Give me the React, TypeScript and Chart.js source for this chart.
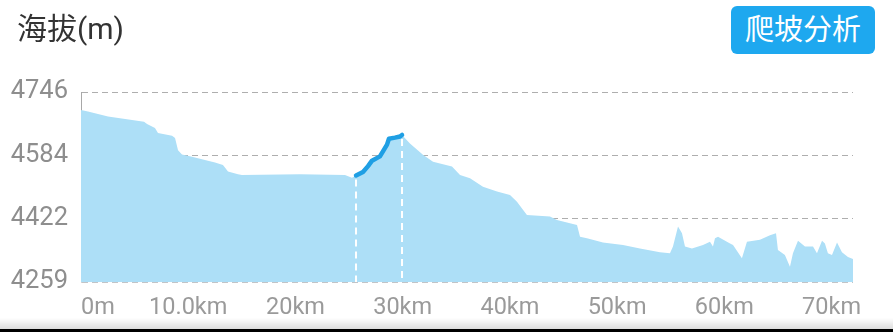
import React, { useEffect, useRef } from "react";
import { Chart, registerables } from "chart.js";

Chart.register(...registerables);

// Distance along the route (km)
const distanceKm = [
  0, 0.65, 2.52, 4.76, 5.88, 6.16, 6.9, 7.18, 8.49, 8.77, 9.05, 9.42, 10.35, 11.56, 12.5, 13.24,
  13.71, 14.64, 15.01, 20.42, 24.62, 25.27, 25.65, 26.3, 26.77, 27.14, 27.88, 28.54, 28.72, 29.28,
  29.75, 29.94, 30.68, 31.89, 32.83, 34.6, 35.35, 36.28, 37.49, 38.8, 40.01, 40.66, 41.22, 41.59,
  43.74, 44.39, 46.26, 46.54, 47.19, 48.68, 50.55, 52.13, 54.0, 54.93, 55.21, 55.68, 56.05, 56.33,
  56.98, 58.01, 58.66, 58.94, 59.13, 59.41, 60.53, 60.81, 61.64, 62.11, 63.32, 64.26, 64.82, 65.0,
  65.65, 66.12, 66.4, 66.87, 67.52, 68.27, 68.64, 69.11, 69.38, 69.66, 70.04, 70.51, 70.97, 71.53,
  72.0,
];

// Elevation (m)
const elevationM = [
  4700, 4696, 4683, 4674, 4670, 4664, 4654, 4641, 4634, 4628, 4597, 4586, 4580, 4572, 4565, 4559,
  4542, 4535, 4533, 4535, 4533, 4526, 4532, 4541, 4556, 4570, 4581, 4611, 4626, 4629,
  4632, 4636, 4614, 4585, 4567, 4555, 4533, 4525, 4503, 4491, 4482, 4465, 4444, 4431,
  4427, 4418, 4405, 4375, 4371, 4360, 4354, 4345, 4335, 4333, 4350, 4401, 4384, 4350,
  4345, 4354, 4362, 4350, 4371, 4375, 4358, 4354, 4320, 4362, 4367, 4379, 4384, 4341,
  4328, 4298, 4333, 4365, 4350, 4350, 4333, 4365, 4358, 4333, 4328, 4360, 4335, 4323,
  4318,
];

// Highlighted climb segment (km)
const climbStartKm = 25.65;
const climbEndKm = 29.94;

// Axis ticks
const yTicks = [4259, 4422, 4584, 4746];
const xTickValues = [0, 10, 20, 30, 40, 50, 60, 70];
const xTickLabels = ["0m", "10.0km", "20km", "30km", "40km", "50km", "60km", "70km"];
const xMax = 72;

const FONT = "Roboto, 'Noto Sans CJK SC', sans-serif";

export default function App() {
  const ref = useRef<HTMLCanvasElement | null>(null);

  useEffect(() => {
    const canvas = ref.current;
    if (!canvas) return;

    const profile = distanceKm.map((x, i) => ({ x, y: elevationM[i] }));
    const climb = profile.filter((p) => p.x >= climbStartKm && p.x <= climbEndKm);

    const overlay = {
      id: "overlay",
      afterDatasetsDraw(chart: any) {
        const { ctx, chartArea, scales } = chart;
        const xs = scales.x;
        const ys = scales.y;
        ctx.save();
        ctx.strokeStyle = "#ffffff";
        ctx.lineWidth = 2;
        ctx.setLineDash([7, 5]);
        [climbStartKm, climbEndKm].forEach((km) => {
          const idx = distanceKm.indexOf(km);
          const px = xs.getPixelForValue(km);
          const py = ys.getPixelForValue(elevationM[idx]);
          ctx.beginPath();
          ctx.moveTo(px, py + 4);
          ctx.lineTo(px, chartArea.bottom);
          ctx.stroke();
        });
        ctx.restore();
      },
      afterDraw(chart: any) {
        const { ctx, chartArea, scales } = chart;
        const xs = scales.x;
        ctx.save();
        ctx.font = `23.5px ${FONT}`;
        ctx.fillStyle = "#9a9a9a";
        ctx.textBaseline = "middle";
        xTickValues.forEach((v, i) => {
          if (i === 0) {
            ctx.textAlign = "left";
            ctx.fillText(xTickLabels[i], chartArea.left, chartArea.bottom + 26);
          } else {
            ctx.textAlign = "center";
            ctx.fillText(xTickLabels[i], xs.getPixelForValue(v), chartArea.bottom + 26);
          }
        });
        ctx.restore();
      },
    };

    const chart = new Chart(canvas, {
      type: "line",
      data: {
        datasets: [
          {
            data: climb,
            borderColor: "#1f9fe4",
            borderWidth: 4.5,
            borderCapStyle: "round",
            borderJoinStyle: "round",
            pointRadius: 0,
            fill: false,
            order: 0,
          },
          {
            data: profile,
            borderWidth: 0,
            borderColor: "rgba(0,0,0,0)",
            backgroundColor: "#addff7",
            pointRadius: 0,
            fill: "start",
            order: 1,
          },
        ],
      },
      options: {
        responsive: false,
        animation: false,
        events: [],
        layout: { padding: { left: 0, top: 92, right: 40, bottom: 0 } },
        plugins: { legend: { display: false }, tooltip: { enabled: false }, title: { display: false } },
        scales: {
          x: {
            type: "linear",
            min: 0,
            max: xMax,
            grid: { display: false },
            border: { display: false },
            ticks: { display: false },
            afterFit: (s: any) => {
              s.height = 50;
            },
          },
          y: {
            min: yTicks[0],
            max: yTicks[yTicks.length - 1],
            z: 1,
            afterBuildTicks: (s: any) => {
              s.ticks = yTicks.map((v) => ({ value: v }));
            },
            afterFit: (s: any) => {
              s.width = 81;
            },
            grid: {
              drawTicks: false,
              color: (c: any) => (c.index === 0 ? "#858a8f" : "#aeaeae"),
              lineWidth: (c: any) => (c.index === 0 ? 1.5 : 1),
            },
            border: { display: true, color: "#a8a8a8", width: 1, dash: [6, 4] },
            ticks: {
              padding: 13,
              color: "#8e8e8e",
              font: { family: FONT, size: 25.5 },
              callback: (v: any) => String(v),
            },
          },
        },
      },
      plugins: [overlay],
    } as any);

    return () => chart.destroy();
  }, []);

  return (
    <div
      style={{
        position: "absolute",
        left: 0,
        top: 0,
        width: 893,
        height: 332,
        background: "#ffffff",
        overflow: "hidden",
      }}
    >
      <canvas ref={ref} width={893} height={332} style={{ position: "absolute", left: 0, top: 0 }} />
      <div
        style={{
          position: "absolute",
          left: 17,
          top: 13,
          fontFamily: FONT,
          fontSize: 30,
          lineHeight: "32px",
          color: "#333333",
        }}
      >
        海拔(m)
      </div>
      <div
        style={{
          position: "absolute",
          left: 731,
          top: 6,
          width: 144,
          height: 48,
          borderRadius: 6,
          background: "#1ea8ef",
          color: "#ffffff",
          fontFamily: FONT,
          fontSize: 29,
          lineHeight: "48px",
          textAlign: "center",
        }}
      >
        爬坡分析
      </div>
      <div
        style={{
          position: "absolute",
          left: 0,
          top: 318,
          width: 893,
          height: 11,
          background: "linear-gradient(to bottom, rgba(230,230,230,0), #dcdcdc)",
        }}
      />
      <div style={{ position: "absolute", left: 0, top: 329, width: 893, height: 3, background: "#000" }} />
    </div>
  );
}
